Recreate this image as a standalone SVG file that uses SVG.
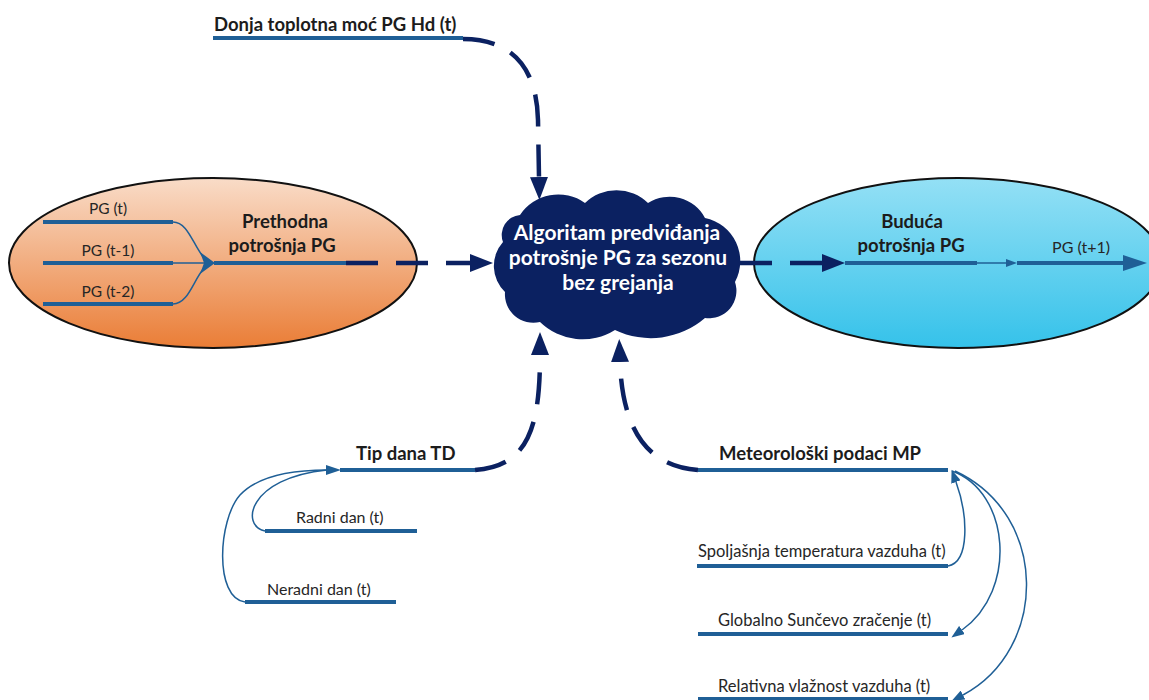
<svg xmlns="http://www.w3.org/2000/svg" width="1149" height="700" viewBox="0 0 1149 700">
  <style>
    .bold { font-family: Lato, "Open Sans", "Liberation Sans", sans-serif; font-weight: bold; fill: #1c1c1c; }
    .reg { font-family: Lato, "Open Sans", "Liberation Sans", sans-serif; fill: #262626; }
    .cloudtxt { font-family: Lato, "Open Sans", "Liberation Sans", sans-serif; font-weight: bold; fill: #ffffff; font-size: 21px; }
    .bar { stroke: #1f5f96; stroke-width: 4; fill: none; }
    .thin { stroke: #1f5f96; stroke-width: 1.5; fill: none; }
    .dash { stroke: #0b2161; stroke-width: 4.5; fill: none; stroke-dasharray: 32 18; }
    .oval { stroke: #111111; stroke-width: 2; }
  </style>
  <defs>
    <linearGradient id="gOrange" x1="0" y1="0" x2="0" y2="1">
      <stop offset="0" stop-color="#f9dcc8"/>
      <stop offset="1" stop-color="#ea7d36"/>
    </linearGradient>
    <linearGradient id="gCyan" x1="0" y1="0" x2="0" y2="1">
      <stop offset="0" stop-color="#94e0f5"/>
      <stop offset="1" stop-color="#35c2ea"/>
    </linearGradient>
    <marker id="navyHead" markerUnits="userSpaceOnUse" markerWidth="24" markerHeight="18" refX="0" refY="9" orient="auto" viewBox="0 0 24 18">
      <path d="M0,0 L23,9 L0,18 Z" fill="#0b2161"/>
    </marker>
    <marker id="blueHead" markerUnits="userSpaceOnUse" markerWidth="14" markerHeight="10" refX="0" refY="5" orient="auto" viewBox="0 0 14 10">
      <path d="M0,0 L13,5 L0,10 Z" fill="#1f5f96"/>
    </marker>
  </defs>

  <!-- previous consumption oval -->
  <g id="node-prethodna">
    <ellipse class="oval" cx="213" cy="263" rx="204" ry="85" fill="url(#gOrange)"/>
    <text class="bold" x="285" y="228" font-size="18.5" text-anchor="middle">Prethodna</text>
    <text class="bold" x="282" y="252" font-size="18.5" text-anchor="middle">potrošnja PG</text>
    <line class="bar" x1="43" y1="222" x2="173" y2="222"/>
    <line class="bar" x1="43" y1="263" x2="173" y2="263"/>
    <line class="bar" x1="43" y1="304" x2="173" y2="304"/>
    <text class="reg" x="108" y="214" font-size="15.5" text-anchor="middle">PG (t)</text>
    <text class="reg" x="108" y="256" font-size="15.5" text-anchor="middle">PG (t-1)</text>
    <text class="reg" x="108" y="297" font-size="15.5" text-anchor="middle">PG (t-2)</text>
    <path class="thin" d="M173,222 C188,222 193,245 204,258"/>
    <path class="thin" d="M173,263 L204,263"/>
    <path class="thin" d="M173,304 C188,304 193,281 204,268"/>
    <path d="M200,252 L215,263 L200,274 L204,263 Z" fill="#1f5f96"/>
    <line class="bar" x1="214" y1="263" x2="346" y2="263"/>
  </g>

  <!-- future consumption oval -->
  <g id="node-buduca">
    <ellipse class="oval" cx="958" cy="263" rx="204" ry="85" fill="url(#gCyan)"/>
    <text class="bold" x="912" y="228" font-size="18.5" text-anchor="middle">Buduća</text>
    <text class="bold" x="911" y="252" font-size="18.5" text-anchor="middle">potrošnja PG</text>
    <line class="bar" x1="845" y1="263" x2="977" y2="263"/>
    <line class="thin" x1="977" y1="263" x2="1006" y2="263"/>
    <path d="M1006,259 L1017,263 L1006,267 Z" fill="#1f5f96"/>
    <text class="reg" x="1081" y="253" font-size="16" text-anchor="middle">PG (t+1)</text>
    <line class="bar" x1="1017" y1="263" x2="1126" y2="263"/>
    <path d="M1123,255 L1147,263 L1123,271 Z" fill="#1f5f96"/>
  </g>

  <!-- algorithm cloud -->
  <g id="node-algoritam">
    <path fill="#0b2161" d="M520,215 A46,46 0 0 1 585,203 A45,45 0 0 1 648,203 A40,40 0 0 1 705,218 A44,44 0 0 1 735,282 A27.5,27.5 0 0 1 705,318 A83,83 0 0 1 615,330 A61,61 0 0 1 540,322 A28.5,28.5 0 0 1 505,292 A36,36 0 0 1 503,242 A20,20 0 0 1 520,215 Z"/>
    <text class="cloudtxt" x="617" y="240" text-anchor="middle">Algoritam predviđanja</text>
    <text class="cloudtxt" x="618" y="265" text-anchor="middle">potrošnje PG za sezonu</text>
    <text class="cloudtxt" x="618" y="290" text-anchor="middle">bez grejanja</text>
  </g>

  <!-- lower heating value input -->
  <g id="node-donja">
    <text class="bold" x="214" y="31" font-size="18.5">Donja toplotna moć PG Hd (t)</text>
    <line class="bar" x1="213" y1="38" x2="463" y2="38"/>
  </g>

  <!-- day type input -->
  <g id="node-tipdana">
    <text class="bold" x="356" y="460" font-size="18.5">Tip dana TD</text>
    <line class="bar" x1="340" y1="470" x2="475" y2="470"/>
    <text class="reg" x="296" y="523" font-size="16">Radni dan (t)</text>
    <line class="bar" x1="265" y1="531" x2="417" y2="531"/>
    <text class="reg" x="267" y="595" font-size="16">Neradni dan (t)</text>
    <line class="bar" x1="245" y1="602" x2="396" y2="602"/>
  </g>

  <!-- weather data input -->
  <g id="node-meteo">
    <text class="bold" x="719" y="460" font-size="18.5">Meteorološki podaci MP</text>
    <line class="bar" x1="698" y1="470" x2="948" y2="470"/>
    <text class="reg" x="698" y="557" font-size="16.5">Spoljašnja temperatura vazduha (t)</text>
    <line class="bar" x1="697" y1="566" x2="948" y2="566"/>
    <text class="reg" x="718" y="626" font-size="16.5">Globalno Sunčevo zračenje (t)</text>
    <line class="bar" x1="698" y1="634" x2="948" y2="634"/>
    <text class="reg" x="718" y="692" font-size="16.5">Relativna vlažnost vazduha (t)</text>
    <line class="bar" x1="698" y1="699" x2="948" y2="699" stroke="#6fa3c8"/>
  </g>

  <!-- connectors -->
  <g id="connectors">
    <path class="dash" d="M346,263 L470,263" marker-end="url(#navyHead)"/>
    <path class="dash" d="M740,263 L822,263" stroke-dasharray="35 18" marker-end="url(#navyHead)"/>
    <path class="dash" d="M463,39 C518,39 537,75 538,120 L539,177" marker-end="url(#navyHead)"/>
    <path class="dash" d="M475,470 C527,466 540,430 540,355" stroke-dasharray="4 16 30 18 30 18 30 18 30" marker-end="url(#navyHead)"/>
    <path class="dash" d="M698,470 C641,466 622,420 620,362" marker-end="url(#navyHead)"/>

    <path class="thin" d="M265,531 C240,526 248,478 327,470"/>
    <path class="thin" d="M245,602 C214,598 218,520 240,495 C258,476 290,470 327,470"/>
    <path d="M326,465 L341,470 L326,475 Z" fill="#1f5f96"/>

    <path class="thin" d="M948,566 C970,562 968,515 956,482" marker-end="url(#blueHead)"/>
    <path class="thin" d="M952,471 C1010,492 1018,590 962,630" marker-end="url(#blueHead)"/>
    <path class="thin" d="M955,471 C1050,515 1048,650 963,695" marker-end="url(#blueHead)"/>
  </g>
</svg>
